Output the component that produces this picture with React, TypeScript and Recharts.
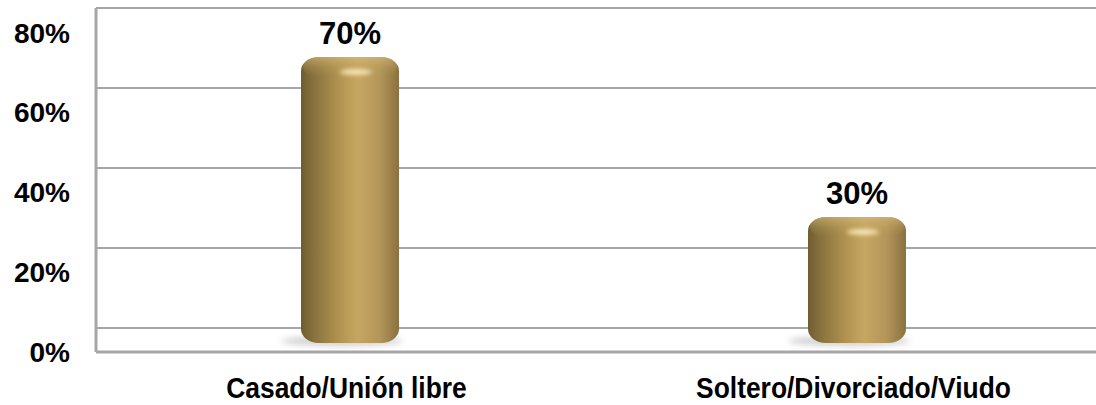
import React from 'react';
import { BarChart, Bar, XAxis, YAxis, CartesianGrid, LabelList } from 'recharts';

const categories = ['Casado/Unión libre', 'Soltero/Divorciado/Viudo'];
const percentages = [70, 30];
const yTicks = [0, 20, 40, 60, 80];

const chartData = categories.map((name, i) => ({ name, value: percentages[i] }));

const GRID = '#a6a6a6';

const YTick = (props: any) => {
  const { x, y, payload } = props;
  return (
    <text
      x={x}
      y={y + 24}
      textAnchor="end"
      dominantBaseline="central"
      fontFamily="'Liberation Sans', Arial, sans-serif"
      fontWeight={700}
      fontSize={28}
      fill="#000"
    >
      {payload.value}%
    </text>
  );
};

// no narrow font installed, so squeeze the bold one horizontally
const XTick = (props: any) => {
  const { x, y, payload } = props;
  return (
    <text
      transform={`translate(${x - 3},${y + 38}) scale(0.88,1)`}
      textAnchor="middle"
      fontFamily="'Liberation Sans', Arial, sans-serif"
      fontWeight={700}
      fontSize={30}
      fill="#000"
    >
      {payload.value}
    </text>
  );
};

// cylinder-ish bar, shifted a bit down to fake the 3d depth
const Cylinder = (props: any) => {
  const { x, y, width, height } = props;
  const top = y + 9;
  const bottom = y + height + 15;
  const cx = x + width / 2;
  return (
    <g>
      <ellipse cx={cx - 8} cy={bottom - 2} rx={width * 0.62} ry={5} fill="#7a7a7a" opacity={0.35} filter="url(#shadowBlur)" />
      <rect x={x} y={top} width={width} height={bottom - top} rx={18} ry={14} fill="url(#cylBody)" />
      <rect x={x + 2} y={top} width={width - 4} height={20} rx={16} ry={10} fill="url(#cylTop)" opacity={0.6} />
      <ellipse cx={cx + 6} cy={top + 15} rx={16} ry={3} fill="#fff1c4" opacity={0.85} filter="url(#hiBlur)" />
    </g>
  );
};

const ValueLabel = (props: any) => {
  const { x, y, width, value } = props;
  return (
    <text
      x={x + width / 2}
      y={y - 4}
      textAnchor="middle"
      fontFamily="'Liberation Sans', Arial, sans-serif"
      fontWeight={700}
      fontSize={31}
      fill="#000"
    >
      {value}%
    </text>
  );
};

export default function App() {
  return (
    <div style={{ position: 'absolute', left: 0, top: 0, width: 1096, height: 405, overflow: 'hidden', background: '#fff' }}>
      <BarChart
        width={1110}
        height={405}
        data={chartData}
        margin={{ top: 8, right: 0, left: 0, bottom: 0 }}
        barCategoryGap={0}
      >
        <defs>
          <linearGradient id="cylBody" x1="0" y1="0" x2="1" y2="0">
            <stop offset="0%" stopColor="#6f5c30" />
            <stop offset="12%" stopColor="#86703d" />
            <stop offset="40%" stopColor="#b39552" />
            <stop offset="58%" stopColor="#c6a662" />
            <stop offset="80%" stopColor="#b4965a" />
            <stop offset="100%" stopColor="#8a7140" />
          </linearGradient>
          <linearGradient id="cylTop" x1="0" y1="0" x2="0" y2="1">
            <stop offset="0%" stopColor="#d9bd7c" />
            <stop offset="100%" stopColor="#b39552" stopOpacity={0} />
          </linearGradient>
          <filter id="shadowBlur" x="-50%" y="-200%" width="200%" height="500%">
            <feGaussianBlur stdDeviation="3" />
          </filter>
          <filter id="hiBlur" x="-50%" y="-200%" width="200%" height="500%">
            <feGaussianBlur stdDeviation="2" />
          </filter>
        </defs>
        <CartesianGrid vertical={false} stroke={GRID} strokeWidth={2} />
        <XAxis
          dataKey="name"
          height={53}
          axisLine={{ stroke: GRID, strokeWidth: 3 }}
          tickLine={false}
          tick={<XTick />}
          interval={0}
        />
        <YAxis
          domain={[-6, 80]}
          ticks={yTicks}
          width={96}
          axisLine={{ stroke: GRID, strokeWidth: 3 }}
          tickLine={false}
          tick={<YTick />}
          tickMargin={20}
        />
        <Bar dataKey="value" barSize={98} shape={<Cylinder />} isAnimationActive={false}>
          <LabelList dataKey="value" content={<ValueLabel />} />
        </Bar>
      </BarChart>
    </div>
  );
}
